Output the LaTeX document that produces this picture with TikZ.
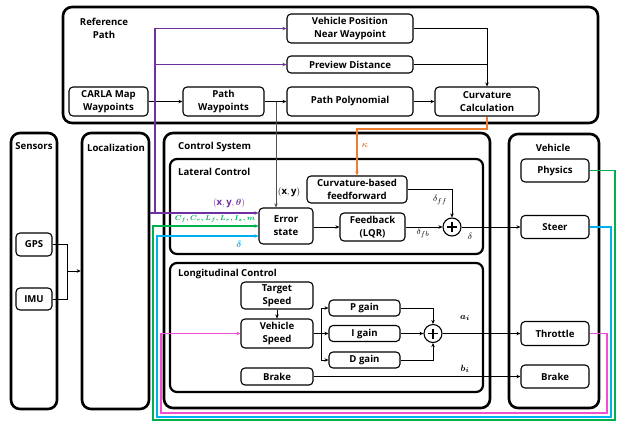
\documentclass[tikz,border=0pt]{standalone}
\usepackage{fontspec}
\setmainfont{Open Sans}
\usepackage{amsmath}
\usetikzlibrary{arrows.meta,calc}
\definecolor{cpurple}{HTML}{7030A0}
\definecolor{cgreen}{HTML}{00B050}
\definecolor{ccyan}{HTML}{00B0F0}
\definecolor{corange}{HTML}{ED7D31}
\definecolor{cpink}{HTML}{F050D0}
\definecolor{cgray}{HTML}{505050}
\begin{document}
\begin{tikzpicture}[x=1pt,y=-1pt,
  font=\fontsize{9.6}{13}\selectfont\bfseries,
  big/.style={draw, line width=2.6pt, rounded corners=9pt, inner sep=0pt},
  sub/.style={draw, line width=2.2pt, rounded corners=7pt, inner sep=0pt},
  blk/.style={draw, line width=1.1pt, rounded corners=4pt, align=center, inner sep=0pt},
  conn/.style={line width=1pt},
  arr/.style={conn, -{Stealth[length=4pt,width=3.5pt]}},
  carr/.style={line width=1.2pt, -{Stealth[length=4pt,width=3.5pt]}},
  sumn/.style={draw, circle, line width=1.1pt, minimum size=18pt, inner sep=0pt,
    path picture={\draw[line width=1.3pt] ([xshift=-5pt]path picture bounding box.center) -- ([xshift=5pt]path picture bounding box.center);
                  \draw[line width=1.3pt] ([yshift=-5pt]path picture bounding box.center) -- ([yshift=5pt]path picture bounding box.center);}},
  ttl/.style={align=center, inner sep=0pt},
  mlab/.style={inner sep=0pt, font=\fontsize{9.5}{10}\selectfont}
]
\useasboundingbox (0,0) rectangle (623,421);

% containers
\node[big, minimum width=535pt, minimum height=116pt] (ref) at (330.5,65) {};
\node[big, minimum width=46pt, minimum height=276pt] (sens) at (34,271) {};
\node[big, minimum width=67pt, minimum height=276pt] (loc) at (115.5,271) {};
\node[big, minimum width=326pt, minimum height=275pt] (ctrl) at (327,270.5) {};
\node[sub, minimum width=313pt, minimum height=95pt] (lat) at (326.5,206.5) {};
\node[sub, minimum width=313pt, minimum height=129pt] (lon) at (326.5,327.5) {};
\node[big, minimum width=90pt, minimum height=274pt] (veh) at (554,271) {};

% titles
\node[ttl] (reft) at (104,28) {Reference\\Path};
\node[ttl] (senst) at (34,146) {Sensors};
\node[ttl] (loct) at (116,148) {Localization};
\node[ttl, anchor=west] (cst) at (178,147) {Control System};
\node[ttl, anchor=west] (latt) at (178,172) {Lateral Control};
\node[ttl, anchor=west] (lont) at (178,274) {Longitudinal Control};
\node[ttl] (veht) at (553,148) {Vehicle};

% reference path blocks
\node[blk, minimum width=79pt, minimum height=29pt] (carla) at (108.5,101.5) {CARLA Map\\Waypoints};
\node[blk, minimum width=81pt, minimum height=29pt] (pwp) at (223.5,101.5) {Path\\Waypoints};
\node[blk, minimum width=126pt, minimum height=29pt] (vpos) at (350,28.5) {Vehicle Position\\Near Waypoint};
\node[blk, minimum width=126pt, minimum height=17pt] (prev) at (350,64.5) {Preview Distance};
\node[blk, minimum width=126pt, minimum height=29pt] (ppoly) at (350,101.5) {Path Polynomial};
\node[blk, minimum width=104pt, minimum height=29pt] (curv) at (487,101.5) {Curvature\\Calculation};

% sensors
\node[blk, minimum width=36pt, minimum height=23pt] (gps) at (34,244.5) {GPS};
\node[blk, minimum width=36pt, minimum height=22pt] (imu) at (34,299) {IMU};

% lateral
\node[blk, minimum width=54pt, minimum height=36pt] (err) at (286,226) {Error\\state};
\node[blk, minimum width=100pt, minimum height=27pt] (ff) at (357,189.5) {Curvature-based\\feedforward};
\node[blk, minimum width=65pt, minimum height=28pt] (fb) at (372.5,227) {Feedback\\(LQR)};
\node[sumn] (s1) at (452,227) {};

% longitudinal
\node[blk, minimum width=72pt, minimum height=27pt] (target) at (277,295.5) {Target\\Speed};
\node[blk, minimum width=72pt, minimum height=29pt] (vspd) at (277,333.5) {Vehicle\\Speed};
\node[blk, minimum width=72pt, minimum height=17pt] (brk) at (277,376.5) {Brake};
\node[blk, minimum width=71pt, minimum height=16pt] (pg) at (364.5,308) {P gain};
\node[blk, minimum width=71pt, minimum height=16pt] (ig) at (364.5,333.5) {I gain};
\node[blk, minimum width=71pt, minimum height=16pt] (dg) at (364.5,360) {D gain};
\node[sumn] (s2) at (433,333.5) {};

% vehicle
\node[blk, minimum width=68pt, minimum height=23pt] (phys) at (555,170.5) {Physics};
\node[blk, minimum width=68pt, minimum height=23pt] (steer) at (555,227) {Steer};
\node[blk, minimum width=68pt, minimum height=24pt] (thr) at (555,333.5) {Throttle};
\node[blk, minimum width=68pt, minimum height=23pt] (vbrk) at (555,376.5) {Brake};

% reference path connectors
\draw[arr] (carla) -- (pwp);
\draw[arr] (pwp) -- (ppoly);
\draw[arr] (ppoly) -- (curv);
\draw[arr] (vpos.east) -| (curv.north);
\draw[conn] (prev.east) -- (prev.east -| curv.north);
\coordinate (gj) at (276,101.5);
\draw[arr, cgray] (gj) -- (gj |- err.north);

% purple
\coordinate (pj) at (155,213);
\draw[carr, cpurple] (loc.east |- pj) -- (err.west |- pj);
\draw[carr, cpurple] (pj) |- (vpos.west);
\draw[carr, cpurple] (pj |- prev.west) -- (prev.west);

% orange
\draw[carr, corange] (curv.south) -- ++(0,12.5) -| (ff.north);

% lateral connectors
\draw[arr] (ff.east) -| (s1.north);
\draw[arr] (err.east |- fb.west) -- (fb.west);
\draw[arr] (fb) -- (s1);
\draw[arr] (s1) -- (steer);

% feedback loops
\draw[carr, cgreen] (phys.east) -- (phys.east -| 615,0) -- (615,420) -- (153,420) -- (153,226) -- (err.west |- 0,226);
\draw[carr, ccyan] (steer.east) -- (steer.east -| 611,0) -- (611,417) -- (157,417) -- (157,236) -- (err.west |- 0,236);
\draw[carr, cpink] (thr.east) -- (thr.east -| 607,0) -- (607,413) -- (161,413) -- (161,333.5) -- (vspd.west);

% sensors
\coordinate (sj) at (67,271);
\draw[conn] (gps.east) -| (sj);
\draw[conn] (imu.east) -| (sj);
\draw[arr] (sj) -- (loc.west |- sj);

% longitudinal connectors
\draw[arr] (target) -- (vspd);
\coordinate (vj) at (321,333.5);
\draw[conn] (vspd.east) -- (vj);
\draw[arr] (vj) |- (pg.west);
\draw[arr] (vj) -- (ig.west);
\draw[arr] (vj) |- (dg.west);
\draw[arr] (pg.east) -| (s2.north);
\draw[arr] (dg.east) -| (s2.south);
\draw[arr] (ig) -- (s2);
\draw[arr] (s2) -- (thr);
\draw[arr] (brk) -- (vbrk);

% math labels
\node[mlab, text=cpurple] (lxyt) at (229,203) {$(\mathbf{x},\mathbf{y},\boldsymbol{\theta})$};
\node[mlab, text=cgreen, font=\fontsize{7.2}{8}\selectfont] (lparam) at (215,219) {$\boldsymbol{C_f,C_r,L_f,L_r,I_z,m}$};
\node[mlab, text=ccyan] (ld) at (239,244) {$\boldsymbol{\delta}$};
\node[mlab] (lxy) at (289,192) {$(\mathbf{x},\mathbf{y})$};
\node[mlab, text=corange] (lk) at (365,145) {$\boldsymbol{\kappa}$};
\node[mlab] (ldff) at (440,200) {$\delta_{ff}$};
\node[mlab] (ldfb) at (423,233) {$\delta_{fb}$};
\node[mlab] (ldel) at (470,236) {$\delta$};
\node[mlab] (lai) at (465,318) {$\boldsymbol{a_i}$};
\node[mlab] (lbi) at (465,369) {$\boldsymbol{b_i}$};
\end{tikzpicture}
\end{document}
